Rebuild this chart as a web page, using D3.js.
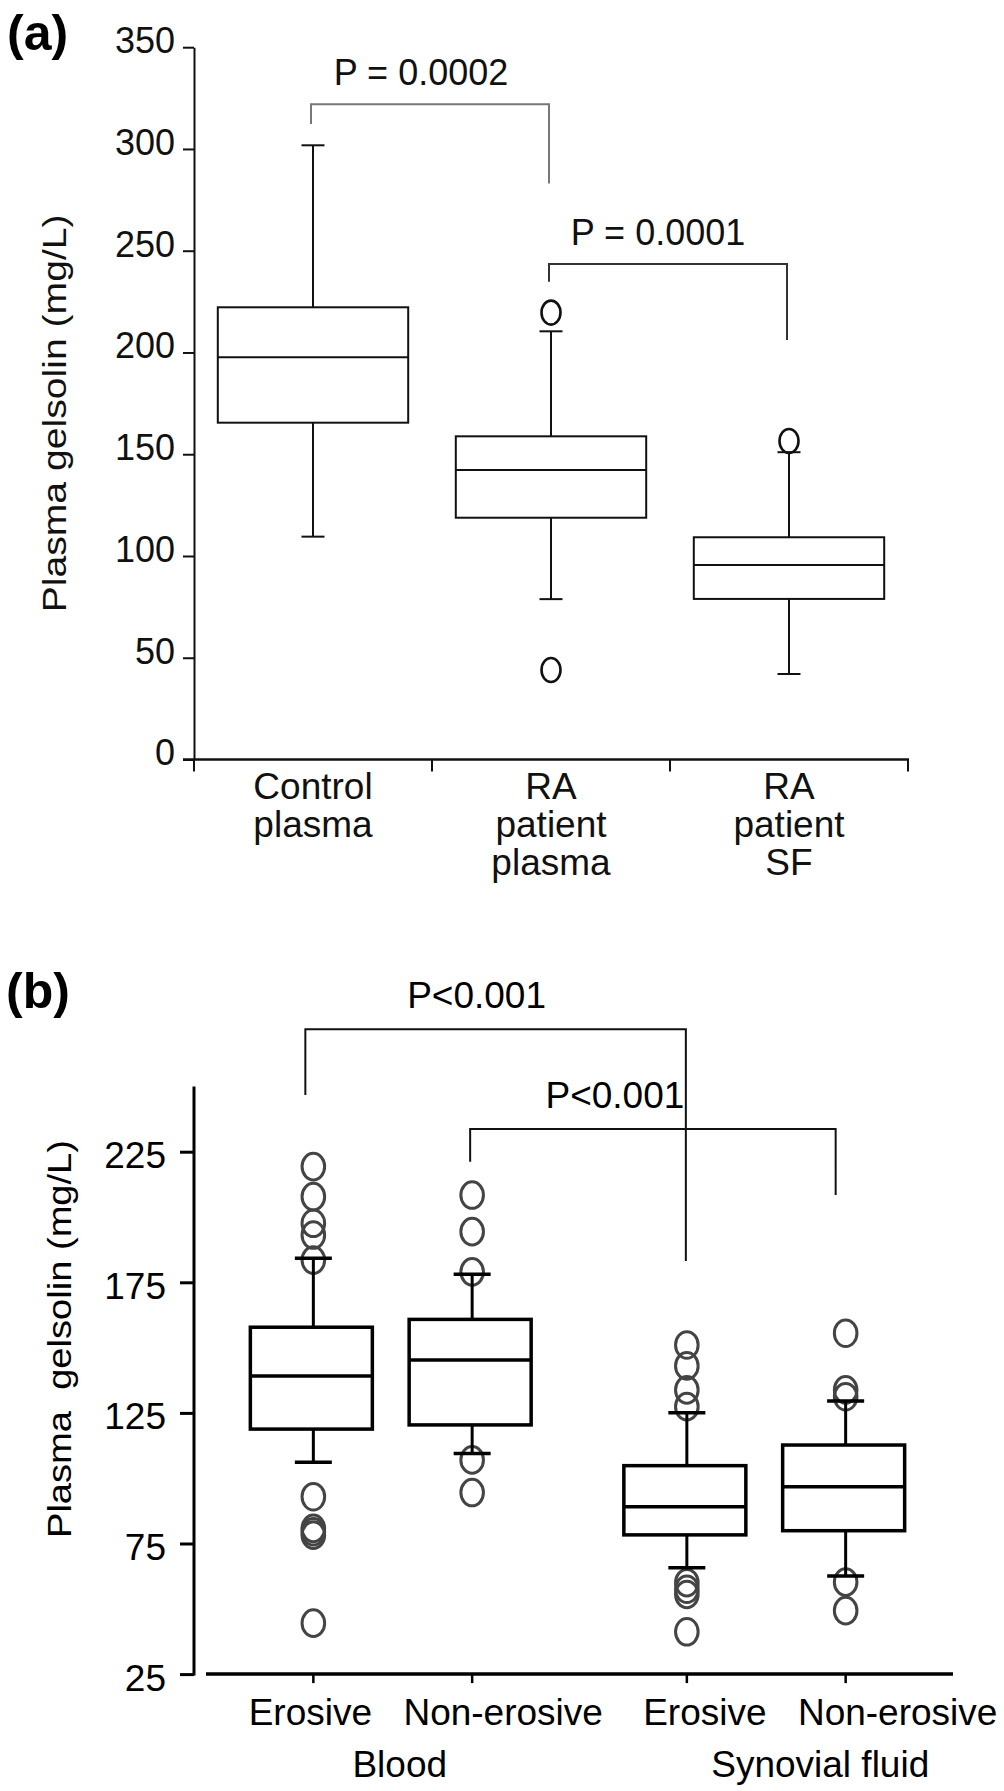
<!DOCTYPE html>
<html><head><meta charset="utf-8">
<script src="https://cdn.jsdelivr.net/npm/d3@7"></script>
<style>html,body{margin:0;padding:0;background:#fff;} svg{display:block;}</style>
</head><body><svg id="chart" width="1004" height="1791"></svg>
<script>
// ---------- Panel (a) data ----------
const categoriesA = ["Control plasma", "RA patient plasma", "RA patient SF"];
const categoryLinesA = [["Control", "plasma"], ["RA", "patient", "plasma"], ["RA", "patient", "SF"]];
const whiskerLowA = [109.5, 78.8, 42.0];
const q1A = [165.5, 118.8, 78.9];
const medianA = [197.6, 142.3, 95.6];
const q3A = [222.2, 158.8, 109.2];
const whiskerHighA = [301.8, 210.4, 151.0];
const outliersA = [[], [219.6, 44.0], [156.5]];
const ticksA = [0, 50, 100, 150, 200, 250, 300, 350];
const pLabelsA = ["P = 0.0002", "P = 0.0001"];
const bracketsA = [
  {from: 0, to: 1, top: 322, leftEnd: 312.3, rightEnd: 283},
  {from: 1, to: 2, top: 243.5, leftEnd: 234.8, rightEnd: 206.1}
];

// ---------- Panel (b) data ----------
const groupsB = ["Blood", "Synovial fluid"];
const subgroupsB = ["Erosive", "Non-erosive"];
const whiskerLowB = [106.1, 109.5, 65.7, 62.6];
const q1B = [118.8, 120.4, 78.3, 79.9];
const medianB = [139.1, 145.3, 89.1, 96.7];
const q3B = [157.8, 160.8, 104.8, 112.7];
const whiskerHighB = [184.2, 178.1, 125.1, 129.6];
const outliersB = [
  [219.3, 207.8, 197.6, 193.1, 183.5, 92.9, 80.8, 79.5, 78.2, 44.5],
  [208.4, 194.4, 179.0, 107.0, 94.5],
  [151.0, 143.0, 133.8, 127.4, 60.0, 57.5, 55.5, 41.2],
  [155.5, 133.8, 131.2, 60.2, 49.3]
];
const ticksB = [25, 75, 125, 175, 225];
const pLabelsB = ["P<0.001", "P<0.001"];
const bracketsB = [
  {from: 0, to: 2, top: 271.9, leftEnd: 246.7, rightEnd: 183.2},
  {from: 1, to: 3, top: 233.7, leftEnd: 221.2, rightEnd: 208.4}
];

const FONT = '"Liberation Sans", Arial, Helvetica, sans-serif';
const svg = d3.select("#chart");

// ================= Panel (a) =================
const yA = d3.scaleLinear().domain([0, 350]).range([759.5, 47.2]);
const xA = d3.scaleBand().domain(categoriesA).range([194, 908]).padding(0);
const gA = svg.append("g");
const inkA = "#111";

svg.append("text").text("(a)").attr("x", 7).attr("y", 50)
  .attr("font-family", FONT).attr("font-weight", "bold").attr("font-size", 50).attr("fill", "#000");

gA.append("g").attr("transform", "translate(194,0)")
  .call(d3.axisLeft(yA).tickValues(ticksA).tickSizeInner(11).tickSizeOuter(0).tickPadding(8))
  .call(g => g.select(".domain").attr("stroke", inkA).attr("stroke-width", 2))
  .call(g => g.selectAll(".tick line").attr("stroke", inkA).attr("stroke-width", 2))
  .call(g => g.selectAll(".tick text").attr("font-size", 36).attr("font-family", FONT)
    .attr("fill", "#111").attr("dy", "0.15em"));

// x axis line and boundary ticks
const boundsA = categoriesA.map(c => xA(c)).concat([xA.range()[1]]);
gA.append("line").attr("x1", xA.range()[0] - 11).attr("x2", xA.range()[1] + 1)
  .attr("y1", yA(0)).attr("y2", yA(0)).attr("stroke", inkA).attr("stroke-width", 2.5);
gA.selectAll(".btick").data(boundsA).join("line")
  .attr("x1", d => d).attr("x2", d => d).attr("y1", yA(0)).attr("y2", yA(0) + 12)
  .attr("stroke", inkA).attr("stroke-width", 2);

// category labels
categoriesA.forEach((c, i) => {
  const t = gA.append("text").attr("text-anchor", "middle").attr("font-family", FONT)
    .attr("font-size", 37).attr("fill", "#111");
  categoryLinesA[i].forEach((ln, j) => {
    t.append("tspan").attr("x", xA(c) + xA.bandwidth() / 2).attr("y", 799 + j * 38).text(ln);
  });
});

// y label
svg.append("text").attr("transform", `translate(66,${(yA(0) + yA(350)) / 2 + 10}) rotate(-90)`)
  .attr("text-anchor", "middle").attr("font-family", FONT).attr("font-size", 33)
  .attr("textLength", 398).attr("lengthAdjust", "spacingAndGlyphs").attr("fill", "#111")
  .text("Plasma gelsolin (mg/L)");

// boxes
categoriesA.forEach((c, i) => {
  const cx = xA(c) + xA.bandwidth() / 2;
  const bw = xA.bandwidth() * 0.8;
  const capW = 23;
  const g = gA.append("g").attr("stroke", inkA).attr("fill", "none").attr("stroke-width", 2);
  g.append("line").attr("x1", cx).attr("x2", cx).attr("y1", yA(whiskerHighA[i])).attr("y2", yA(q3A[i]));
  g.append("line").attr("x1", cx).attr("x2", cx).attr("y1", yA(q1A[i])).attr("y2", yA(whiskerLowA[i]));
  g.append("line").attr("x1", cx - capW / 2).attr("x2", cx + capW / 2).attr("y1", yA(whiskerHighA[i])).attr("y2", yA(whiskerHighA[i]));
  g.append("line").attr("x1", cx - capW / 2).attr("x2", cx + capW / 2).attr("y1", yA(whiskerLowA[i])).attr("y2", yA(whiskerLowA[i]));
  g.append("rect").attr("x", cx - bw / 2).attr("width", bw).attr("y", yA(q3A[i])).attr("height", yA(q1A[i]) - yA(q3A[i]));
  g.append("line").attr("x1", cx - bw / 2).attr("x2", cx + bw / 2).attr("y1", yA(medianA[i])).attr("y2", yA(medianA[i]));
  g.selectAll("ellipse").data(outliersA[i]).join("ellipse")
    .attr("cx", cx).attr("cy", d => yA(d)).attr("rx", 9.5).attr("ry", 12).attr("stroke-width", 2.6);
});

// brackets
bracketsA.forEach((b, i) => {
  const x1 = xA(categoriesA[b.from]) + xA.bandwidth() / 2 - 2;
  const x2 = xA(categoriesA[b.to]) + xA.bandwidth() / 2 - 2;
  gA.append("path")
    .attr("d", `M${x1},${yA(b.leftEnd)}V${yA(b.top)}H${x2}V${yA(b.rightEnd)}`)
    .attr("fill", "none").attr("stroke", i === 0 ? "#777" : "#333").attr("stroke-width", 2);
  gA.append("text").attr("x", (x1 + x2) / 2 - (i === 0 ? 9 : 10)).attr("y", yA(b.top) - 19)
    .attr("text-anchor", "middle").attr("font-family", FONT).attr("font-size", 36).attr("fill", "#111")
    .text(pLabelsA[i]);
});

// ================= Panel (b) =================
const yB = d3.scaleLinear().domain([25, 225]).range([1674.1, 1151.7]);
const xG = d3.scaleBand().domain(groupsB).range([206, 953]).padding(0);
const xS = d3.scalePoint().domain(subgroupsB).range([0, xG.bandwidth()]).padding(0.676);
const itemsB = [];
groupsB.forEach(g => subgroupsB.forEach(s => itemsB.push({g, s})));
const cxB = itemsB.map(d => xG(d.g) + xS(d.s));
const gB = svg.append("g");

svg.append("text").text("(b)").attr("x", 6).attr("y", 1008)
  .attr("font-family", FONT).attr("font-weight", "bold").attr("font-size", 50).attr("fill", "#000");

// y axis (extends to 250)
gB.append("line").attr("x1", 194).attr("x2", 194).attr("y1", yB(250)).attr("y2", yB(25) + 1.5)
  .attr("stroke", "#000").attr("stroke-width", 3);
gB.append("g").attr("transform", "translate(194,0)")
  .call(d3.axisLeft(yB).tickValues(ticksB).tickSizeInner(14).tickSizeOuter(0).tickPadding(14))
  .call(g => g.select(".domain").remove())
  .call(g => g.selectAll(".tick line").attr("stroke", "#000").attr("stroke-width", 3))
  .call(g => g.selectAll(".tick text").attr("font-size", 37).attr("font-family", FONT)
    .attr("fill", "#000").attr("dy", "0.43em"));

// x axis
gB.append("line").attr("x1", xG.range()[0]).attr("x2", xG.range()[1])
  .attr("y1", yB(25)).attr("y2", yB(25)).attr("stroke", "#000").attr("stroke-width", 3.5);
gB.selectAll(".xt").data(cxB).join("line")
  .attr("x1", d => d).attr("x2", d => d).attr("y1", yB(25)).attr("y2", yB(25) + 9)
  .attr("stroke", "#000").attr("stroke-width", 2.5);

// sub labels and group labels
const subNudge = [-3, 31, 18, 52];
itemsB.forEach((d, i) => {
  gB.append("text").attr("x", cxB[i] + subNudge[i]).attr("y", 1725).attr("text-anchor", "middle")
    .attr("font-family", FONT).attr("font-size", 37).attr("fill", "#000").text(d.s);
});
const groupNudge = [7, 54];
groupsB.forEach((g, i) => {
  gB.append("text").attr("x", xG(g) + xG.bandwidth() / 2 + groupNudge[i]).attr("y", 1777)
    .attr("text-anchor", "middle").attr("font-family", FONT).attr("font-size", 37).attr("fill", "#000").text(g);
});

// y label
svg.append("text").attr("transform", `translate(70.5,1339) rotate(-90)`)
  .attr("text-anchor", "middle").attr("font-family", FONT).attr("font-size", 33)
  .attr("textLength", 398).attr("lengthAdjust", "spacingAndGlyphs").attr("fill", "#000")
  .text("Plasma\u00a0 gelsolin (mg/L)");

// boxes
itemsB.forEach((d, i) => {
  const cx = cxB[i];
  const bw = 122;
  const capW = 37;
  const g = gB.append("g").attr("fill", "none");
  g.selectAll("ellipse").data(outliersB[i]).join("ellipse")
    .attr("cx", cx).attr("cy", v => yB(v)).attr("rx", 11.3).attr("ry", 13.3)
    .attr("stroke", "#444").attr("stroke-width", 3);
  const k = g.append("g").attr("stroke", "#000");
  k.append("line").attr("x1", cx).attr("x2", cx).attr("y1", yB(whiskerHighB[i])).attr("y2", yB(q3B[i])).attr("stroke-width", 3);
  k.append("line").attr("x1", cx).attr("x2", cx).attr("y1", yB(q1B[i])).attr("y2", yB(whiskerLowB[i])).attr("stroke-width", 3);
  k.append("line").attr("x1", cx - capW / 2).attr("x2", cx + capW / 2).attr("y1", yB(whiskerHighB[i])).attr("y2", yB(whiskerHighB[i])).attr("stroke-width", 3.5);
  k.append("line").attr("x1", cx - capW / 2).attr("x2", cx + capW / 2).attr("y1", yB(whiskerLowB[i])).attr("y2", yB(whiskerLowB[i])).attr("stroke-width", 3.5);
  k.append("rect").attr("x", cx - bw / 2 - 2).attr("width", bw).attr("y", yB(q3B[i])).attr("height", yB(q1B[i]) - yB(q3B[i]))
    .attr("fill", "#fff").attr("stroke-width", 3.5);
  k.append("line").attr("x1", cx - bw / 2 - 2).attr("x2", cx + bw / 2 - 2).attr("y1", yB(medianB[i])).attr("y2", yB(medianB[i])).attr("stroke-width", 3.5);
});

// brackets
const bracketTextNudge = [-19, -38];
bracketsB.forEach((b, i) => {
  const x1 = cxB[b.from] - (i === 0 ? 8 : 2);
  const x2 = cxB[b.to] - (i === 0 ? 1 : 10);
  gB.append("path")
    .attr("d", `M${x1},${yB(b.leftEnd)}V${yB(b.top)}H${x2}V${yB(b.rightEnd)}`)
    .attr("fill", "none").attr("stroke", "#111").attr("stroke-width", 2);
  gB.append("text").attr("x", (x1 + x2) / 2 + bracketTextNudge[i]).attr("y", yB(b.top) - 21)
    .attr("text-anchor", "middle").attr("font-family", FONT).attr("font-size", 37).attr("fill", "#000")
    .text(pLabelsB[i]);
});
</script></body></html>
